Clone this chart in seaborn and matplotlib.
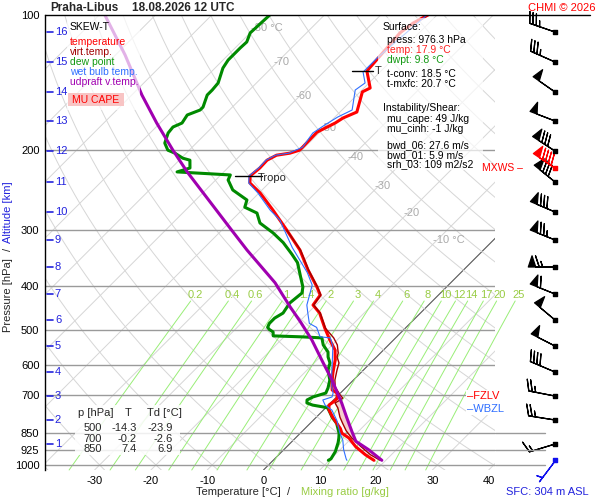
import numpy as np
import pandas as pd
import matplotlib
matplotlib.use("Agg")
import matplotlib.pyplot as plt
import matplotlib.transforms as mtransforms
from matplotlib.patches import Rectangle
from matplotlib.lines import Line2D
import seaborn as sns

# ---------------- data ----------------
station = "Praha-Libus"
valid_time = "18.08.2026 12 UTC"

temp_p = [100, 104.2, 109.6, 124.6, 133.2, 145.3, 148.2, 164.3, 169.4, 173.8,
          182.1, 196.7, 199.7, 202.8, 204.9, 210.2, 218.8, 227.9, 236.2, 248.6,
          271.3, 300.5, 332.9, 368.8, 402.3, 419.1, 441.1, 459.6, 496.5, 527.5,
          555.2, 584.4, 624.6, 657.3, 681.4, 692, 700, 712, 725, 736,
          755, 783, 830, 850, 871, 910, 949, 976.3]
temp_t = [-51.6, -52.8, -53.4, -52.8, -52.5, -48.9, -49.6, -47.0, -48.4, -48.9,
          -50.5, -50.4, -50.4, -51.6, -53.6, -54.4, -54.3, -54.6, -53.4, -49.8,
          -44.5, -38.5, -32.6, -27.6, -23.0, -21.0, -20.5, -17.9, -14.3, -11.3,
          -8.6, -6.8, -4.9, -3.3, -2.0, -0.6, -0.2, 0.4, 0.3, 0.1,
          1.0, 2.9, 6.3, 7.4, 9.5, 12.2, 15.4, 17.9]

dew_p = [100, 109.6, 114.8, 118.4, 125.9, 131.2, 141.6, 146.8, 150.6, 160.2,
         162.6, 166.8, 173.8, 177.4, 182.9, 192.6, 199.7, 202.8, 208.1, 210.2,
         218.8, 223.2, 226.7, 232.6, 244.8, 257.7, 267.4, 275.5, 289.9, 305.0,
         320.4, 340.0, 355.0, 381.1, 402.3, 414.8, 436.6, 459.6, 471.6, 484.5,
         494.5, 500, 506.4, 516.5, 519.1, 521.8, 541, 560.9, 575.4, 593.3,
         615.1, 647.4, 674.5, 692, 706, 717, 728, 736, 743, 747,
         763, 783, 808, 850, 871, 892, 934, 969, 976.3]
dew_t = [-79.7, -80.0, -79.0, -79.1, -79.1, -78.6, -76.8, -76.6, -76.6, -75.2,
         -75.2, -76.6, -76.1, -77.0, -76.8, -75.6, -73.8, -72.0, -69.7, -68.1,
         -66.7, -68.3, -58.3, -57.8, -55.2, -50.9, -50.0, -46.8, -44.5, -40.4,
         -36.9, -33.3, -30.8, -27.8, -25.5, -24.6, -25.0, -24.4, -25.0, -25.0,
         -24.6, -23.9, -22.8, -22.1, -16.8, -13.1, -11.6, -9.5, -8.6, -7.2,
         -6.3, -4.2, -3.1, -2.6, -4.2, -4.7, -4.2, -2.8, -0.6, 0.4,
         1.5, 2.8, 4.7, 6.9, 7.7, 8.4, 9.5, 10.0, 9.8]

wb_p = [100, 124.6, 133.9, 141.6, 146.8, 162.6, 168.5, 175.6, 182.9, 196.7,
        202.8, 204.9, 210.2, 218.8, 227.9, 236.2, 248.6, 271.3, 285.5, 328.7,
        373.5, 398.2, 441.1, 459.6, 484.5, 494.5, 519, 521.8, 544, 593.3,
        624.6, 671, 692, 706, 717, 735.8, 755, 795.7, 849, 881,
        924, 969, 976.3]
wb_t = [-51.8, -53.0, -53.0, -50.7, -51.2, -48.2, -49.5, -50.4, -51.1, -50.4,
        -51.8, -53.8, -54.6, -54.5, -54.8, -53.6, -50.2, -45.0, -41.5, -34.4,
        -27.3, -24.2, -21.6, -20.0, -17.9, -15.9, -13.6, -11.6, -9.7, -6.8,
        -5.1, -2.6, -1.3, -0.8, -1.9, -0.6, 1.5, 4.2, 7.0, 8.8,
        10.6, 12.7, 13.1]

tv_p = [300.5, 332.9, 368.8, 402.3, 419.1, 441.1, 459.6, 496.5, 521.8, 541,
        563.9, 575.4, 593.3, 615.1, 647.4, 671, 699, 710, 717, 728,
        747, 783, 808.5, 839, 871, 909.5, 949, 976.3]
tv_t = [-38.5, -32.5, -27.5, -22.9, -20.9, -20.4, -17.8, -14.2, -11.0, -9.1,
        -7.5, -7.0, -5.6, -4.7, -3.3, -2.0, 0.3, 1.3, 1.2, 0.8,
        2.2, 4.2, 5.8, 7.7, 10.0, 13.1, 16.3, 19.0]

par_p = [100, 122.7, 150.6, 173.8, 199.7, 223.2, 300, 332.9, 393.6, 445.6,
         480.3, 527.5, 593.3, 647.4, 688.4, 728.3, 783.3, 844.9, 885.6, 924, 976.3]
par_t = [-109.0, -98.3, -88.2, -80.6, -72.9, -66.5, -48.4, -42.0, -31.2, -24.2,
         -19.8, -14.5, -8.4, -3.8, -0.8, 2.0, 5.4, 9.0, 11.3, 15.0, 19.3]

# altitude (km) levels and wind barbs
alt_km = [16, 15, 14, 13, 12, 11, 10, 9, 8, 7, 6, 5, 4, 3, 2, 1]
alt_p = [109.1, 127.2, 148.3, 172.0, 200.6, 235.0, 274.0, 316.2, 363.1, 416.9,
         476.2, 544.0, 621.4, 702.7, 794.3, 898.3]
wind_dir = [289, 294, 305, 291, 303, 309, 293, 292, 270, 292, 310, 297, 293, 281, 279, 253]
wind_spd = [35, 35, 50, 50, 80, 80, 80, 75, 65, 60, 50, 50, 40, 25, 25, 15]
mxws_p, mxws_dir, mxws_spd = 218.8, 304, 90
sfc_p, sfc_dir, sfc_spd = 976.3, 217, 5

pressure_ticks = [100, 200, 300, 400, 500, 600, 700, 850, 925, 1000]
temp_ticks = [-30, -20, -10, 0, 10, 20, 30, 40]
mix_vals = [0.2, 0.4, 0.6, 1, 1.4, 2, 3, 4, 6, 8, 10, 12, 14, 17, 20, 25]
iso_lab_t = [-80, -70, -60, -50, -40, -30, -20, -10]
iso_lab_p = [106.9, 127.2, 151.4, 178.3, 206.8, 239.9, 275.4, 316.2]

trop_p, trop_t = 227.9, -54.6
trop2_p, trop2_t = 133.2, -52.5
fzlv_p, wbzl_p = 703, 751

surface_lines = [("Surface:", "black", 0),
                 ("press: 976.3 hPa", "black", 1),
                 ("temp: 17.9 °C", "#ff2020", 1),
                 ("dwpt: 9.8 °C", "#119911", 1),
                 ("t-conv: 18.5 °C", "black", 1),
                 ("t-mxfc: 20.7 °C", "black", 1),
                 ("Instability/Shear:", "black", 0),
                 ("mu_cape: 49 J/kg", "black", 1),
                 ("mu_cinh: -1 J/kg", "black", 1),
                 ("bwd_06: 27.6 m/s", "black", 1),
                 ("bwd_01: 5.9 m/s", "black", 1),
                 ("srh_03: 109 m2/s2", "black", 1)]
surface_y = [27, 40, 50, 60, 74, 84, 108, 119, 129, 145, 155, 164]

table_p = ["500", "700", "850"]
table_t = ["-14.3", "-0.2", "7.4"]
table_td = ["-23.9", "-2.6", "6.9"]

# ---------------- style ----------------
sns.set_style("white")
plt.rcParams['font.family'] = ['Liberation Sans', 'DejaVu Sans']
plt.rcParams['axes.unicode_minus'] = False

W, H = 600, 500
P0 = 1025.9
K = 79.93
XL, XR = -38.81, 41.12

C_T = '#ff0000'
C_TV = '#a00000'
C_TD = '#008a00'
C_WB = '#2f6fff'
C_PAR = '#a000b0'
C_ALT = '#2222dd'
C_MIX = '#99ee77'
C_MIXL = '#99cc44'
C_BG = '#d6d6d6'
C_ISO = '#9a9a9a'


def skx(t, p):
    return np.asarray(t, float) + K * np.log10(P0 / np.asarray(p, float))


def fx(px):
    return px / W


def fy(py):
    return 1 - py / H


fig = plt.figure(figsize=(6, 5), dpi=100)
fig.patch.set_facecolor('white')
ax = fig.add_axes([fx(45), fy(470), 450 / W, 455 / H])
ax.set_yscale('log')
ax.set_ylim(P0, 100)
ax.set_xlim(XL, XR)
ax.set_facecolor('white')
for s in ['top', 'right', 'bottom']:
    ax.spines[s].set_visible(False)
ax.spines['left'].set_color('black')
ax.spines['left'].set_linewidth(1.0)

pp = np.geomspace(P0, 100, 200)
for t in range(-160, 50, 10):
    ax.plot(skx(t, pp), pp, color='#555555' if t == 0 else C_BG,
            lw=0.8 if t == 0 else 0.7, zorder=1)
for th in range(-40, 220, 10):
    tt = (th + 273.15) * (pp / 1000.0) ** 0.2857 - 273.15
    ax.plot(skx(tt, pp), pp, color=C_BG, lw=0.7, zorder=1)

pm = np.geomspace(P0, 432, 60)
for w in mix_vals:
    e = w * pm / (622.0 + w)
    lr = np.log(e / 6.112)
    td = 243.5 * lr / (17.67 - lr)
    ax.plot(skx(td, pm), pm, color=C_MIX, lw=0.7, zorder=1.2, clip_on=False)
    el = w * 419.0 / (622.0 + w)
    ll = np.log(el / 6.112)
    tdl = 243.5 * ll / (17.67 - ll)
    ax.text(float(skx(tdl, 419.0)), 419.0, f"{w:g}", color=C_MIXL, fontsize=8,
            ha='center', va='center', zorder=1.3, clip_on=False)

for p in pressure_ticks[1:]:
    ax.axhline(p, color=C_ISO, lw=1.0, zorder=1.5)

for t, p in zip(iso_lab_t, iso_lab_p):
    lab = f"{t} °C" if t in (-80, -10) else f"{t}"
    ax.text(float(skx(t, p)) - 0.7, p, lab, color='#aaaaaa', fontsize=8,
            ha='left', va='center', zorder=1.4)

# CAPE area
gp = np.linspace(690, 900, 200)
x_tv = skx(np.interp(gp, tv_p, tv_t), gp)
x_pa = skx(np.interp(gp, par_p, par_t), gp)
ax.fill_betweenx(gp, x_tv, x_pa, where=x_pa > x_tv, interpolate=True,
                 color='#f6cccc', lw=0, zorder=2.5)

# profiles
sns.lineplot(x=skx(dew_t, dew_p), y=dew_p, sort=False, estimator=None, ax=ax,
             color=C_TD, linewidth=2.2, zorder=3, legend=False)
sns.lineplot(x=skx(temp_t, temp_p), y=temp_p, sort=False, estimator=None, ax=ax,
             color=C_T, linewidth=2.2, zorder=4, legend=False)
sns.lineplot(x=skx(tv_t, tv_p), y=tv_p, sort=False, estimator=None, ax=ax,
             color=C_TV, linewidth=1.0, zorder=4.5, legend=False)
sns.lineplot(x=skx(wb_t, wb_p), y=wb_p, sort=False, estimator=None, ax=ax,
             color=C_WB, linewidth=0.8, zorder=5, legend=False)
sns.lineplot(x=skx(par_t, par_p), y=par_p, sort=False, estimator=None, ax=ax,
             color=C_PAR, linewidth=2.2, zorder=6, legend=False)

# tropopause markers
ax.plot(skx([trop_t - 2.7, trop_t + 2.1], [trop_p, trop_p]), [trop_p, trop_p],
        color='black', lw=1.0, zorder=7)
ax.plot(skx([trop2_t - 2.7, trop2_t + 1.1], [trop2_p, trop2_p]), [trop2_p, trop2_p],
        color='black', lw=1.0, zorder=7)

# ticks
ax.set_yticks(pressure_ticks)
ax.set_yticklabels([str(p) for p in pressure_ticks])
ax.yaxis.set_minor_locator(matplotlib.ticker.NullLocator())
ax.set_xticks(temp_ticks)
ax.set_xticklabels([str(t) for t in temp_ticks])
ax.tick_params(axis='both', length=0, labelsize=8, colors='black')
ax.tick_params(axis='y', pad=4)
ax.tick_params(axis='x', pad=4)
ax.set_xlabel('')
ax.set_ylabel('')
ax.grid(False)

# altitude ticks
blend = mtransforms.blended_transform_factory(ax.transAxes, ax.transData)
for km, p in zip(alt_km, alt_p):
    ax.plot([0.005, 0.0175], [p, p], color=C_ALT, lw=1.2, transform=blend,
            clip_on=False, zorder=8)
    ax.text(0.022, p, str(km), color=C_ALT, fontsize=8, transform=blend,
            ha='left', va='center', zorder=8)

# FZLV / WBZL
ax.text(0.938, fzlv_p, '–FZLV', color='red', fontsize=8, transform=blend,
        ha='left', va='center', zorder=9,
        bbox=dict(facecolor='white', edgecolor='none', pad=1.0))
ax.text(0.938, wbzl_p, '–WBZL', color=C_WB, fontsize=8, transform=blend,
        ha='left', va='center', zorder=9,
        bbox=dict(facecolor='white', edgecolor='none', pad=1.0))

# wind axes
ax_w = fig.add_axes([fx(495), fy(470), 105 / W, 455 / H])
ax_w.set_yscale('log')
ax_w.set_ylim(P0, 100)
ax_w.set_xlim(0, 105)
ax_w.axis('off')
for p in [850, 925, 1000]:
    ax_w.plot([0, 50], [p, p], color=C_ISO, lw=1.0)

wd = np.deg2rad(wind_dir)
ws = np.asarray(wind_spd, float)
u = -ws * np.sin(wd)
v = -ws * np.cos(wd)
n = len(alt_p)
bkw = dict(length=6.2, linewidth=0.9, pivot='tip', clip_on=False,
           sizes=dict(spacing=0.13, height=0.42, width=0.28))
ax_w.barbs(np.full(n, 60.0), alt_p, u, v, color='black', **bkw)
ax_w.scatter(np.full(n, 60.0), alt_p, marker='s', s=5, color='black', zorder=5,
             clip_on=False)
md = np.deg2rad(mxws_dir)
ax_w.barbs([60.0], [mxws_p], [-mxws_spd * np.sin(md)], [-mxws_spd * np.cos(md)],
           color='red', **bkw)
ax_w.scatter([60.0], [mxws_p], marker='s', s=5, color='red', zorder=5)
sd = np.deg2rad(sfc_dir)
ax_w.barbs([60.0], [sfc_p], [-sfc_spd * np.sin(sd)], [-sfc_spd * np.cos(sd)],
           color='#1010ee', **bkw)
ax_w.scatter([60.0], [sfc_p], marker='s', s=5, color='#1010ee', zorder=5)

# top line
fig.add_artist(Line2D([fx(45), fx(590)], [fy(15), fy(15)], color='black', lw=1.0,
                      transform=fig.transFigure))

# legend box
fig.add_artist(Rectangle((fx(67), fy(110)), (140 - 67) / W, (110 - 15) / H,
                         transform=fig.transFigure, facecolor='white', alpha=0.7,
                         edgecolor='none', zorder=1))
leg = [("SKEW-T", 'black', 27), ("temperature", C_T, 42), ("virt.temp.", C_TV, 52),
       ("dew point", '#119911', 62), ("wet bulb temp.", C_WB, 72),
       ("udpraft v.temp.", C_PAR, 82)]
for txt, c, y in leg:
    fig.text(fx(70), fy(y), txt, color=c, fontsize=7.5, ha='left', va='center')
fig.add_artist(Rectangle((fx(68), fy(106)), (124 - 68) / W, 13 / H,
                         transform=fig.transFigure, facecolor='#f8c4c4',
                         edgecolor='none', zorder=1.5))
fig.text(fx(96), fy(100), "MU CAPE", color='red', fontsize=7.5, ha='center', va='center')

# surface box
fig.add_artist(Rectangle((fx(378), fy(170)), (483 - 378) / W, (170 - 18) / H,
                         transform=fig.transFigure, facecolor='white', alpha=0.7,
                         edgecolor='none', zorder=1))
for (txt, c, ind), y in zip(surface_lines, surface_y):
    fig.text(fx(383 + 4 * ind), fy(y), txt, color=c, fontsize=7.5, ha='left', va='center')

# table box
fig.add_artist(Rectangle((fx(75), fy(455)), (180 - 75) / W, 50 / H,
                         transform=fig.transFigure, facecolor='white', alpha=0.85,
                         edgecolor='none', zorder=1))
fig.text(fx(78), fy(413), "p [hPa]", fontsize=8, ha='left', va='center')
fig.text(fx(128), fy(413), "T", fontsize=8, ha='center', va='center')
fig.text(fx(147), fy(413), "Td [°C]", fontsize=8, ha='left', va='center')
for i, (a, b, c) in enumerate(zip(table_p, table_t, table_td)):
    y = 428 + 10.5 * i
    fig.text(fx(102), fy(y), a, fontsize=8, ha='right', va='center')
    fig.text(fx(137), fy(y), b, fontsize=8, ha='right', va='center')
    fig.text(fx(173), fy(y), c, fontsize=8, ha='right', va='center')

# labels
fig.text(fx(258), fy(178), "Tropo", fontsize=8, ha='left', va='center')
fig.text(fx(375), fy(71), "T", fontsize=8, ha='left', va='center')
fig.text(fx(482), fy(168), "MXWS –", color='red', fontsize=7.5, ha='left', va='center')
fig.text(fx(50), fy(8), station, fontsize=8.5, fontweight='bold', ha='left', va='center')
fig.text(fx(132), fy(8), valid_time, fontsize=8.5, fontweight='bold', ha='left', va='center')
fig.text(fx(596), fy(8), "CHMI © 2026", color='red', fontsize=8, ha='right', va='center')
fig.text(fx(589), fy(492), "SFC: 304 m ASL", color=C_ALT, fontsize=8, ha='right', va='center')

fig.text(fx(238), fy(492), "Temperature [°C]", fontsize=8, ha='center', va='center')
fig.text(fx(289), fy(492), "/", fontsize=8, ha='center', va='center')
fig.text(fx(345), fy(492), "Mixing ratio [g/kg]", color=C_MIXL, fontsize=8, ha='center', va='center')
fig.text(fx(8), fy(295), "Pressure [hPa]", fontsize=8, rotation=90, ha='center', va='center')
fig.text(fx(8), fy(249), "/", fontsize=8, rotation=90, ha='center', va='center')
fig.text(fx(8), fy(212), "Altitude [km]", color=C_ALT, fontsize=8, rotation=90, ha='center', va='center')

fig.savefig("out.png", dpi=100, facecolor='white')
